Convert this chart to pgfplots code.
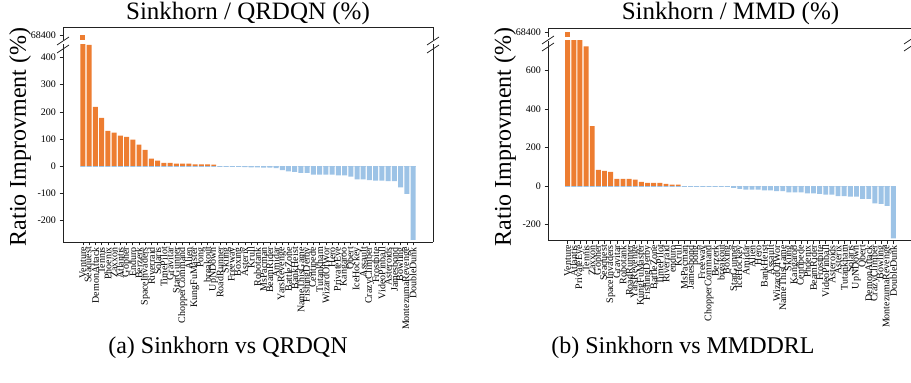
\documentclass[border=0pt]{standalone}
\usepackage{fontspec}
\setmainfont{Liberation Serif}
\usepackage{pgfplots}
\usepackage{pgfplotstable}
\pgfplotsset{compat=1.18}
\definecolor{myorange}{HTML}{ED7D31}
\definecolor{myblue}{HTML}{9DC3E6}
\definecolor{spine}{HTML}{222222}

% Sinkhorn vs QRDQN
\pgfplotstableread{
x pos neg
0 68400 0
1 447 0
2 218 0
3 178 0
4 130 0
5 123 0
6 112 0
7 108 0
8 97 0
9 79 0
10 60 0
11 27 0
12 20 0
13 12 0
14 12 0
15 9 0
16 9 0
17 9 0
18 6 0
19 6 0
20 6 0
21 5 0
22 0 -1
23 0 -1
24 0 -2
25 0 -3
26 0 -4
27 0 -5
28 0 -5
29 0 -6
30 0 -6
31 0 -8
32 0 -15
33 0 -20
34 0 -21
35 0 -25
36 0 -25
37 0 -32
38 0 -32
39 0 -32
40 0 -32
41 0 -34
42 0 -34
43 0 -39
44 0 -49
45 0 -49
46 0 -52
47 0 -54
48 0 -54
49 0 -56
50 0 -56
51 0 -79
52 0 -103
53 0 -272
}\leftdata

% Sinkhorn vs MMDDRL
\pgfplotstableread{
x pos neg
0 68400 0
1 760 0
2 760 0
3 726 0
4 312 0
5 84 0
6 79 0
7 74 0
8 38 0
9 38 0
10 38 0
11 33 0
12 22 0
13 17 0
14 17 0
15 17 0
16 12 0
17 7 0
18 7 0
19 0 -1
20 0 -1
21 0 -1
22 0 -1
23 0 -1
24 0 -2
25 0 -2
26 0 -3
27 0 -9
28 0 -14
29 0 -19
30 0 -19
31 0 -19
32 0 -22
33 0 -22
34 0 -26
35 0 -26
36 0 -33
37 0 -33
38 0 -33
39 0 -38
40 0 -38
41 0 -41
42 0 -45
43 0 -45
44 0 -52
45 0 -52
46 0 -55
47 0 -55
48 0 -66
49 0 -66
50 0 -90
51 0 -93
52 0 -103
53 0 -272
}\rightdata

\pgfplotsset{
  base/.style={scale only axis, ybar, bar width=0.8, xmin=-3.2, xmax=56.2,
    tick align=outside, major tick length=3.5pt,
    tick style={spine, line width=0.6pt},
    axis line style={spine, line width=0.8pt},
    /pgf/number format/assume math mode=true,
    yticklabel style={font=\fontsize{10}{12}\selectfont},
    axis y line*=left},
  lower/.style={base, axis x line*=bottom, xtick={0,...,53},
    x tick label style={rotate=90, anchor=east, font=\fontsize{10}{10}\selectfont, inner sep=1.5pt},
    ymin=-280},
  upper/.style={base, axis x line*=top, xtick=\empty, ytick={68400},
    yticklabels={68400}, scaled y ticks=false},
}

\begin{document}
\begin{tikzpicture}
% ---------- left panel ----------
\begin{axis}[upper, at={(63pt,343pt)}, anchor=south west, width=370pt, height=12.7pt,
  ymin=68360, ymax=68460]
\addplot[fill=myorange, draw=none, bar shift=0pt] coordinates {(0,68400)};
\end{axis}
\begin{axis}[lower, at={(63pt,141pt)}, anchor=south west, width=370pt, height=198pt,
  ymax=450, ytick={-200,-100,0,100,200,300,400},
  xticklabels={Venture,Seaquest,DemonAttack,Tennis,Phoenix,Zaxxon,Atlantis,Gopher,Enduro,Berzerk,SpaceInvaders,Riverraid,Solaris,TimePilot,Gravitar,StarGunner,ChopperCommand,Alien,KungFuMaster,Pong,breakout,UpNDown,RoadRunner,Skiing,Freeway,Boxing,Asterix,Krull,Robotank,MsPacman,BeamRider,Amidar,YarsRevenge,BattleZone,BankHeist,NameThisGame,FishingDerby,Centipede,Tutankham,WizardOfWor,Hero,PrivateEye,Kangaroo,Qbert,IceHockey,Assault,CrazyClimber,Frostbite,VideoPinball,Asteroids,Jamesbond,Bowling,MontezumaRevenge,DoubleDunk}]
\addplot[fill=myorange, draw=none, bar shift=0pt, y filter/.expression={min(y,800)}] table[x=x, y=pos] {\leftdata};
\addplot[fill=myblue, draw=none, bar shift=0pt] table[x=x, y=neg] {\leftdata};
\addplot[fill=myblue, draw=myblue, line width=1.1pt, bar shift=0pt] table[x=x, y expr=0*\thisrow{neg}] {\leftdata};
\end{axis}
\draw[spine, line width=0.8pt] (433pt,141pt) -- (433pt,339pt);
\draw[spine, line width=0.8pt] (433pt,343pt) -- (433pt,355.7pt) -- (63pt,355.7pt);
% break marks
\draw[spine, line width=0.7pt] (57pt,338pt) -- (69pt,346pt);
\draw[spine, line width=0.7pt] (57pt,330pt) -- (69pt,338pt);
\draw[spine, line width=0.7pt] (427pt,338pt) -- (439pt,346pt);
\draw[spine, line width=0.7pt] (427pt,330pt) -- (439pt,338pt);

% ---------- right panel ----------
\begin{axis}[upper, at={(548pt,345.5pt)}, anchor=south west, width=365pt, height=9.5pt,
  ymin=68340, ymax=68450]
\addplot[fill=myorange, draw=none, bar shift=0pt] coordinates {(0,68400)};
\end{axis}
\begin{axis}[lower, at={(548pt,143pt)}, anchor=south west, width=365pt, height=199.3pt,
  ymax=755, ytick={-200,0,200,400,600},
  xticklabels={Venture,Atlantis,PrivateEye,Tennis,Zaxxon,Gopher,Seaquest,SpaceInvaders,Gravitar,Robotank,RoadRunner,YarsRevenge,KungFuMaster,FishingDerby,BattleZone,TimePilot,Riverraid,enduro,Krull,MsPacman,Jamesbond,pong,Freeway,ChopperCommand,Berzerk,breakout,Boxing,StarGunner,IceHockey,Amidar,Alien,Hero,BankHeist,Assault,WizardOfWor,NameThisGame,Skiing,Kangaroo,Centipede,Phoenix,BeamRider,Frostbite,VideoPinball,Asteroids,Asterix,Tutankham,Solaris,UpNDown,Qbert,DemonAttack,CrazyClimber,Bowling,MontezumaRevenge,DoubleDunk}]
\addplot[fill=myorange, draw=none, bar shift=0pt, y filter/.expression={min(y,1000)}] table[x=x, y=pos] {\rightdata};
\addplot[fill=myblue, draw=none, bar shift=0pt] table[x=x, y=neg] {\rightdata};
\addplot[fill=myblue, draw=myblue, line width=1.1pt, bar shift=0pt] table[x=x, y expr=0*\thisrow{neg}] {\rightdata};
\end{axis}
\draw[spine, line width=0.8pt] (913pt,143pt) -- (913pt,342.3pt);
\draw[spine, line width=0.8pt] (913pt,345.5pt) -- (913pt,355pt) -- (548pt,355pt);
\draw[spine, line width=0.7pt] (542pt,339pt) -- (554pt,347pt);
\draw[spine, line width=0.7pt] (542pt,332pt) -- (554pt,340pt);
\draw[spine, line width=0.7pt] (904pt,339pt) -- (916pt,347pt);
\draw[spine, line width=0.7pt] (904pt,332pt) -- (916pt,340pt);

% ---------- texts ----------
\node[font=\fontsize{25}{30}\selectfont] at (248pt,370pt) {Sinkhorn / QRDQN (\%)};
\node[font=\fontsize{25}{30}\selectfont] at (730.5pt,370pt) {Sinkhorn / MMD (\%)};
\node[rotate=90, font=\fontsize{24}{28}\selectfont] at (20pt,246pt) {Ratio Improvment (\%)};
\node[rotate=90, font=\fontsize{24}{28}\selectfont] at (505pt,246pt) {Ratio Improvment (\%)};
\node[font=\fontsize{24}{28}\selectfont] at (228pt,35pt) {(a) Sinkhorn vs QRDQN};
\node[font=\fontsize{24}{28}\selectfont] at (683pt,35pt) {(b) Sinkhorn vs MMDDRL};

\pgfresetboundingbox
\path[use as bounding box] (0pt,0pt) rectangle (911pt,383pt);
\end{tikzpicture}
\end{document}
